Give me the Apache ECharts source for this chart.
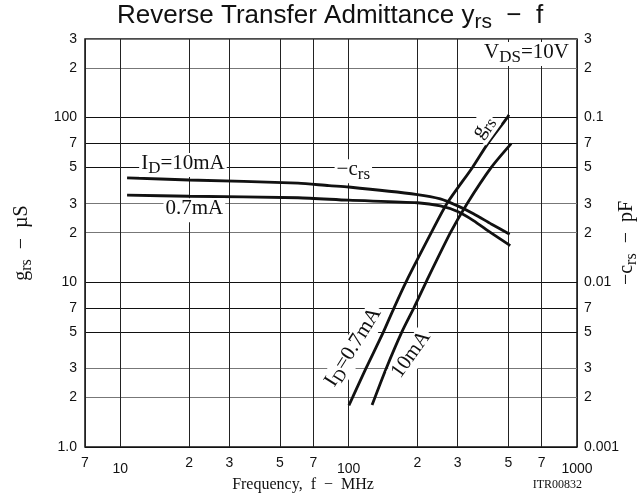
<!DOCTYPE html>
<html>
<head>
<meta charset="utf-8">
<script src="https://cdn.jsdelivr.net/npm/echarts@6/dist/echarts.min.js"></script>
<style>
  html, body { margin: 0; padding: 0; background: #fff; }
  #chart { width: 644px; height: 501px; }
</style>
</head>
<body>
<div id="chart"></div>
<script>
// ---- data ----
// x tick positions (MHz) and their printed labels
const xTickValues = [7, 10, 20, 30, 50, 70, 100, 200, 300, 500, 700, 1000]
const xTickLabels = ['7', '10', '2', '3', '5', '7', '100', '2', '3', '5', '7', '1000']
// left axis g_rs (µS)
const yTickValues = [1, 2, 3, 5, 7, 10, 20, 30, 50, 70, 100, 200, 300]
const yTickLabels = ['1.0', '2', '3', '5', '7', '10', '2', '3', '5', '7', '100', '2', '3']
// right axis -c_rs (pF)
const y2TickValues = [0.001, 0.002, 0.003, 0.005, 0.007, 0.01, 0.02, 0.03, 0.05, 0.07, 0.1, 0.2, 0.3]
const y2TickLabels = ['0.001', '2', '3', '5', '7', '0.01', '2', '3', '5', '7', '0.1', '2', '3']

// -c_rs curves (pF)
const crsFreq10 = [10.7, 20, 60, 82, 100, 200, 252, 300, 352, 419, 507]
const crs10 = [0.0431, 0.0418, 0.0400, 0.0386, 0.0379, 0.0341, 0.0321, 0.0291, 0.0261, 0.0227, 0.0196]
const crsFreq07 = [10.7, 20, 60, 100, 200, 252, 300, 352, 419, 510]
const crs07 = [0.0338, 0.0333, 0.0326, 0.0315, 0.0304, 0.0291, 0.0269, 0.0237, 0.0200, 0.0167]

// g_rs curves (µS)
const grsFreq07 = [100.2, 104, 119, 142, 158, 178, 230, 269, 349, 408, 495, 503]
const grs07 = [1.79, 2, 3, 5, 7, 10, 20, 30, 50, 70, 100, 104]
const grsFreq10 = [126.6, 146, 171, 193, 218, 279, 330, 422, 515]
const grs10 = [1.8, 3, 5, 7, 10, 20, 30, 50, 69.5]

const pairs = (xs, ys) => xs.map((x, i) => [x, ys[i]])
const pickLabel = (values, labels) => v => {
  let best = 0
  values.forEach((t, i) => {
    if (Math.abs(Math.log10(t) - Math.log10(v)) < Math.abs(Math.log10(values[best]) - Math.log10(v))) best = i
  })
  return labels[best]
}

const serif = 'Liberation Serif'
const sans = 'Liberation Sans'

// rich styles for subscripts
const richText = (size) => ({
  n: { fontFamily: serif, fontSize: size, color: '#111', lineHeight: size + 3, verticalAlign: 'top' },
  s: { fontFamily: serif, fontSize: size - 4, color: '#111', lineHeight: size + 3, padding: [Math.round(size * 0.35), 0, 0, 0], verticalAlign: 'top' }
})

const annot = (coord, text, rotate) => ({
  coord,
  symbol: 'circle',
  symbolSize: 0,
  label: {
    show: true,
    position: 'inside',
    formatter: text,
    rotate: rotate || 0,
    backgroundColor: '#fff',
    padding: [0, 2, 0, 2],
    rich: richText(21)
  }
})

const curve = (name, data, yAxisIndex, points) => ({
  name,
  type: 'line',
  yAxisIndex,
  data,
  smooth: 0.25,
  showSymbol: false,
  silent: true,
  lineStyle: { color: '#111', width: 2.8 },
  markPoint: { silent: true, animation: false, data: points || [] }
})

const myChart = echarts.init(document.getElementById('chart'))

const option = {
  animation: false,
  backgroundColor: '#fff',
  title: {
    text: '{a|Reverse Transfer Admittance y}{b|rs}{a|  −  f}',
    left: 112,
    top: -2,
    textStyle: {
      rich: {
        a: { fontFamily: sans, fontSize: 26, fontWeight: 'normal', color: '#111', lineHeight: 31, verticalAlign: 'top' },
        b: { fontFamily: sans, fontSize: 21, fontWeight: 'normal', color: '#111', lineHeight: 31, padding: [9, 0, 0, 0], verticalAlign: 'top' }
      }
    }
  },
  grid: {
    left: 85,
    right: 67,
    top: 39,
    bottom: 54,
    show: true,
    borderColor: '#111',
    borderWidth: 1.5,
    outerBoundsMode: 'none',
    containLabel: false
  },
  xAxis: {
    type: 'log',
    logBase: 10,
    min: 7,
    max: 1000,
    name: 'Frequency,  f  −  MHz',
    nameLocation: 'middle',
    nameGap: 30,
    nameMoveOverlap: false,
    nameTextStyle: { fontFamily: serif, fontSize: 16, color: '#111', padding: [0, 56, 0, 0] },
    axisLine: { show: false },
    axisTick: { show: false, customValues: xTickValues },
    axisLabel: {
      customValues: xTickValues,
      margin: 9,
      fontFamily: sans,
      fontSize: 14,
      color: '#111',
      formatter: v => {
        const t = pickLabel(xTickValues, xTickLabels)(v)
        return (t.length > 1) ? '{d|' + t + '}' : '{m|' + t + '}'
      },
      rich: {
        d: { fontFamily: sans, fontSize: 14, color: '#111', padding: [6, 0, 0, 0] },
        m: { fontFamily: sans, fontSize: 14, color: '#111' }
      }
    },
    splitLine: { show: true, lineStyle: { color: '#222', width: 1 } }
  },
  yAxis: [
    {
      type: 'log',
      logBase: 10,
      min: 1,
      max: 300,
      name: '{n|g}{s|rs}{n|  −  µS}',
      nameLocation: 'middle',
      nameRotate: 90,
      nameGap: 50,
      nameTextStyle: { rich: richText(20) },
      axisLine: { show: false },
      axisTick: { show: false, customValues: yTickValues },
      axisLabel: {
        customValues: yTickValues,
        margin: 8,
        fontFamily: sans,
        fontSize: 14,
        color: '#111',
        formatter: pickLabel(yTickValues, yTickLabels)
      },
      splitLine: {
        show: true,
        lineStyle: { color: ['#111', '#777', '#777', '#111', '#111'], width: 1 }
      }
    },
    {
      type: 'log',
      logBase: 10,
      min: 0.001,
      max: 0.3,
      position: 'right',
      name: '{n|−c}{s|rs}{n|  −  pF}',
      nameLocation: 'middle',
      nameRotate: 90,
      nameGap: 40,
      nameMoveOverlap: false,
      nameTextStyle: { rich: richText(20) },
      axisLine: { show: false },
      axisTick: { show: false, customValues: y2TickValues },
      axisLabel: {
        customValues: y2TickValues,
        margin: 7,
        fontFamily: sans,
        fontSize: 14,
        color: '#111',
        formatter: pickLabel(y2TickValues, y2TickLabels)
      },
      splitLine: { show: false }
    }
  ],
  graphic: [
    {
      type: 'text',
      right: 62,
      bottom: 10,
      style: { text: 'ITR00832', fontFamily: serif, fontSize: 12, fill: '#111' }
    }
  ],
  series: [
    curve('crs 10mA', pairs(crsFreq10, crs10), 1, [
      annot([18.8, 0.0516], '{n|I}{s|D}{n|=10mA}'),
      annot([104.8, 0.0473], '{n|−c}{s|rs}'),
      annot([601, 0.243], '{n|V}{s|DS}{n|=10V}')
    ]),
    curve('crs 0.7mA', pairs(crsFreq07, crs07), 1, [
      annot([21.1, 0.0274], '{n|0.7mA}')
    ]),
    curve('grs 0.7mA', pairs(grsFreq07, grs07), 0, [
      annot([391, 86.8], '{n|g}{s|rs}', 55),
      annot([105.9, 4.0], '{n|I}{s|D}{n|=0.7mA}', 58)
    ]),
    curve('grs 10mA', pairs(grsFreq10, grs10), 0, [
      annot([190, 3.6], '{n|10mA}', 54.5)
    ])
  ]
}

myChart.setOption(option)
window.addEventListener('resize', () => myChart.resize())
</script>
</body>
</html>
